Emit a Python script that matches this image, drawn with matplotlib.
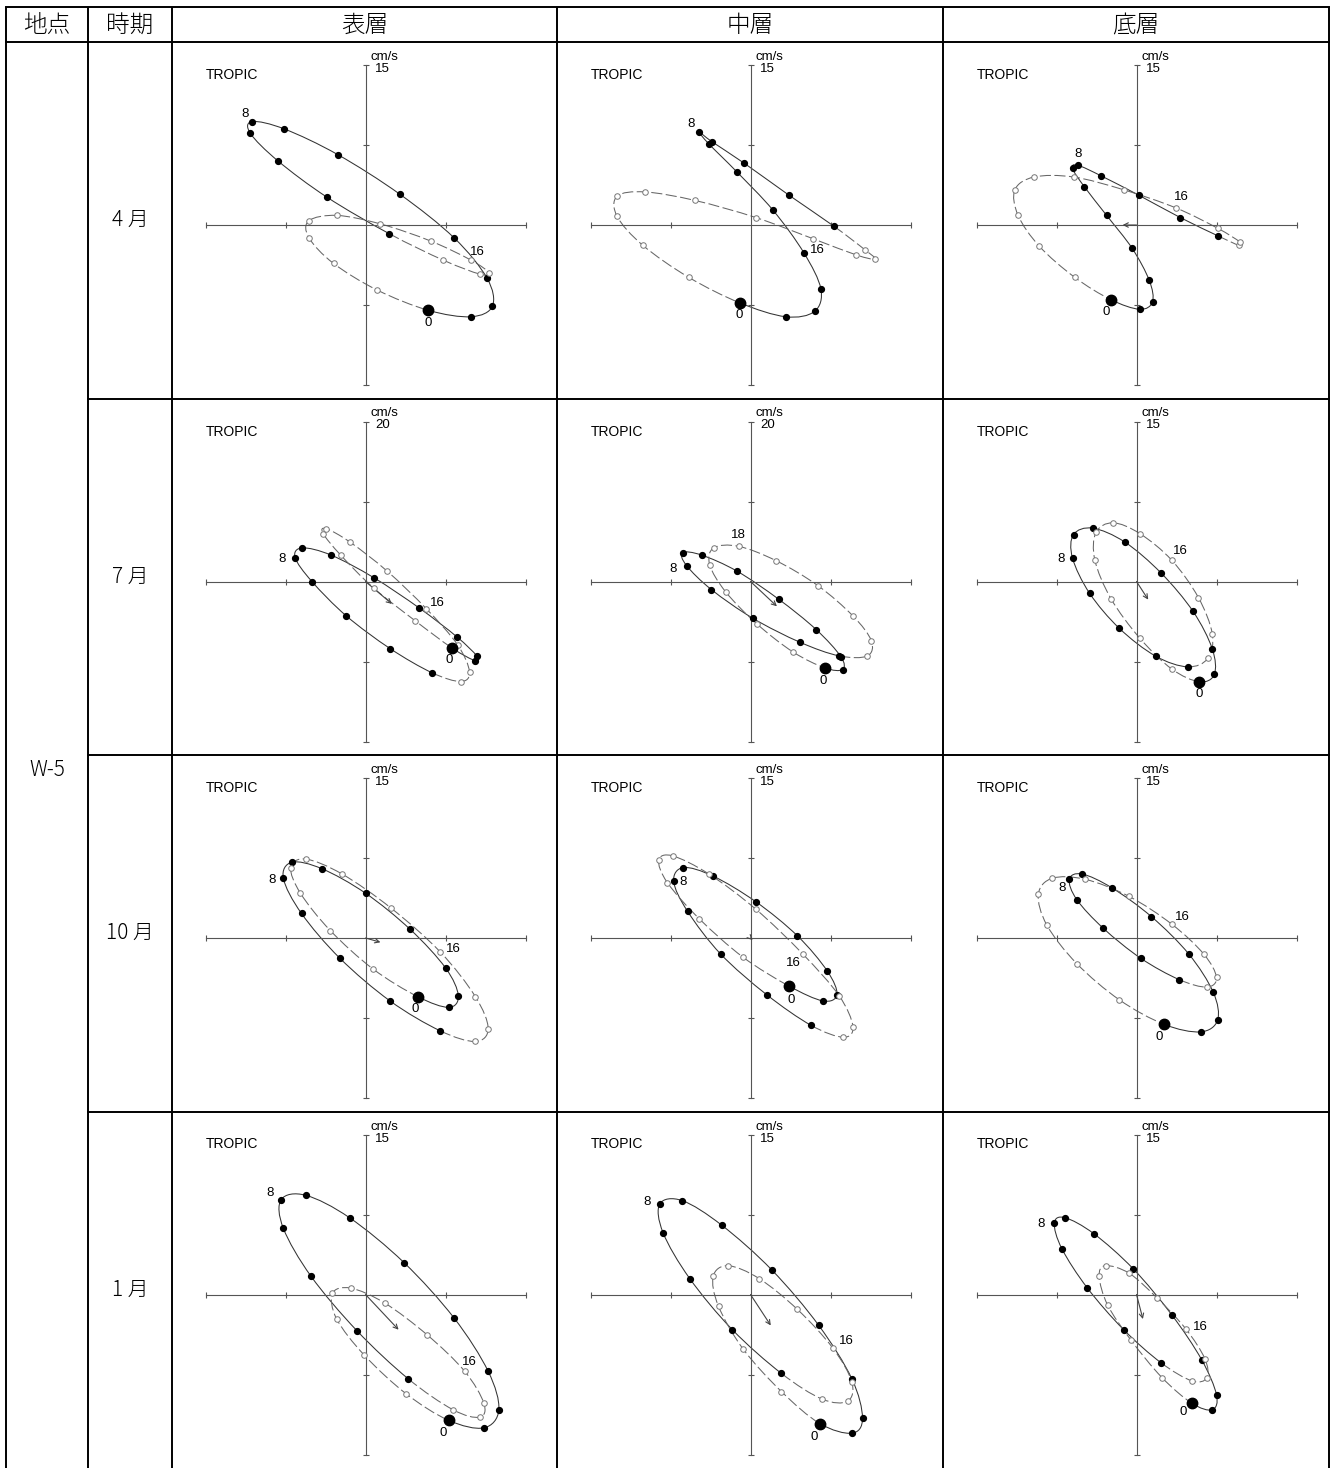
import numpy as np
import matplotlib
matplotlib.use('Agg')
import matplotlib.pyplot as plt
from matplotlib.path import Path
from matplotlib.patches import PathPatch

plt.rcParams['lines.scale_dashes'] = False

# ---- table text ----
header = ['地点', '時期', '表層', '中層', '底層']
station = 'W-5'
seasons = ['4 月', '7 月', '10 月', '1 月']
# full scale of each hodograph (cm/s), rows = season, cols = layer
full_scale = [[15, 15, 15], [20, 20, 15], [15, 15, 15], [15, 15, 15]]

# ---- hourly current vectors (cm/s), hour 0..23, u = east, v = north ----
apr_top_u = [5.9, 9.9, 11.9, 11.4, 8.3, 3.2, -2.6, -7.6, -10.6, -10.8, -8.2, -3.6, 2.2, 7.3, 10.7, 11.6, 9.9, 6.1, 1.4, -2.7, -5.3, -5.3, -3.0, 1.1]
apr_top_v = [-8.0, -8.6, -7.6, -5.0, -1.2, 2.9, 6.6, 9.0, 9.7, 8.6, 6.0, 2.6, -0.8, -3.3, -4.6, -4.5, -3.3, -1.5, 0.1, 0.9, 0.4, -1.2, -3.6, -6.1]
apr_mid_u = [-1.0, 3.3, 6.0, 6.6, 5.0, 2.1, -1.3, -3.9, -4.8, -3.6, -0.6, 3.6, 7.8, 10.7, 11.7, 9.9, 5.9, 0.5, -5.2, -9.9, -12.5, -12.5, -10.1, -5.8]
apr_mid_v = [-7.3, -8.6, -8.1, -6.0, -2.6, 1.4, 5.0, 7.6, 8.7, 7.8, 5.8, 2.8, -0.1, -2.3, -3.2, -2.8, -1.3, 0.7, 2.3, 3.1, 2.7, 0.8, -1.9, -4.9]
apr_bot_u = [-2.4, 0.3, 1.5, 1.2, -0.4, -2.8, -4.9, -6.0, -5.5, -3.3, 0.2, 4.1, 7.6, 9.6, 9.7, 7.6, 3.7, -1.2, -5.9, -9.6, -11.4, -11.1, -9.1, -5.8]
apr_bot_v = [-7.0, -7.9, -7.2, -5.2, -2.2, 0.9, 3.6, 5.3, 5.6, 4.6, 2.8, 0.7, -1.0, -1.9, -1.6, -0.3, 1.6, 3.3, 4.5, 4.5, 3.3, 0.9, -2.0, -4.9]

jul_top_u = [10.8, 13.7, 13.9, 11.4, 6.7, 1.0, -4.3, -7.9, -8.8, -6.7, -2.4, 3.1, 8.3, 11.9, 13.0, 11.5, 7.6, 2.7, -1.9, -4.9, -5.3, -3.1, 1.0, 6.2]
jul_top_v = [-8.3, -9.9, -9.3, -6.9, -3.3, 0.5, 3.3, 4.2, 3.0, 0.0, -4.3, -8.4, -11.4, -12.5, -11.3, -7.9, -3.4, 1.3, 4.9, 6.6, 6.0, 3.3, -0.8, -4.9]
jul_mid_u = [9.3, 11.5, 11.3, 8.2, 3.5, -1.7, -6.1, -8.5, -8.0, -4.9, 0.3, 6.2, 11.1, 14.6, 15.1, 12.8, 8.4, 3.2, -1.5, -4.6, -5.1, -3.1, 0.8, 5.3]
jul_mid_v = [-10.8, -11.0, -9.4, -6.0, -2.2, 1.3, 3.3, 3.6, 2.0, -1.0, -4.6, -7.6, -9.3, -9.3, -7.4, -4.3, -0.5, 2.6, 4.4, 4.2, 2.1, -1.3, -5.3, -8.8]
jul_bot_u = [5.9, 7.3, 7.1, 5.3, 2.3, -1.1, -4.1, -5.9, -6.0, -4.4, -1.6, 1.8, 4.8, 6.7, 7.1, 5.8, 3.3, 0.3, -2.2, -3.8, -3.9, -2.4, 0.3, 3.3]
jul_bot_v = [-9.4, -8.7, -6.3, -2.8, 0.8, 3.7, 5.0, 4.4, 2.2, -1.1, -4.4, -7.0, -8.0, -7.2, -4.9, -1.5, 2.0, 4.5, 5.5, 4.6, 2.0, -1.6, -5.3, -8.2]

oct_top_u = [4.9, 7.8, 8.7, 7.5, 4.2, 0.0, -4.1, -6.9, -7.7, -6.0, -2.4, 2.3, 7.0, 10.3, 11.5, 10.3, 7.0, 2.4, -2.2, -5.6, -7.0, -6.1, -3.3, 0.7]
oct_top_v = [-5.5, -6.5, -5.4, -2.8, 0.8, 4.2, 6.5, 7.1, 5.6, 2.3, -1.9, -5.9, -8.7, -9.7, -8.5, -5.5, -1.3, 2.8, 6.0, 7.4, 6.6, 4.2, 0.7, -2.9]
oct_mid_u = [3.6, 6.8, 8.1, 7.2, 4.4, 0.5, -3.5, -6.3, -7.2, -5.9, -2.8, 1.5, 5.7, 8.7, 9.6, 8.3, 4.9, 0.5, -3.9, -7.3, -8.6, -7.8, -4.8, -0.7]
oct_mid_v = [-4.5, -5.9, -5.3, -3.1, 0.2, 3.4, 5.8, 6.6, 5.3, 2.5, -1.5, -5.3, -8.2, -9.3, -8.3, -5.4, -1.5, 2.7, 6.0, 7.7, 7.3, 5.2, 1.8, -1.8]
oct_bot_u = [2.6, 6.0, 7.6, 7.2, 4.9, 1.4, -2.3, -5.1, -6.3, -5.6, -3.1, 0.4, 4.0, 6.6, 7.5, 6.3, 3.3, -0.7, -4.8, -7.9, -9.2, -8.4, -5.6, -1.6]
oct_bot_v = [-8.1, -8.8, -7.7, -5.1, -1.5, 2.0, 4.7, 6.0, 5.5, 3.6, 0.9, -1.9, -3.9, -4.6, -3.7, -1.5, 1.3, 3.9, 5.5, 5.6, 4.1, 1.2, -2.4, -5.8]

jan_top_u = [7.8, 11.1, 12.5, 11.5, 8.3, 3.6, -1.5, -5.6, -7.9, -7.7, -5.1, -0.8, 4.0, 8.2, 10.7, 11.1, 9.3, 5.8, 1.8, -1.4, -3.1, -2.7, -0.1, 3.8]
jan_top_v = [-11.8, -12.5, -10.8, -7.2, -2.2, 3.0, 7.2, 9.3, 8.9, 6.2, 1.7, -3.4, -7.9, -10.8, -11.5, -10.2, -7.2, -3.8, -0.8, 0.6, 0.1, -2.3, -5.7, -9.3]
jan_mid_u = [6.5, 9.5, 10.5, 9.5, 6.4, 2.0, -2.7, -6.4, -8.5, -8.2, -5.7, -1.7, 2.9, 6.7, 9.1, 9.5, 7.7, 4.4, 0.8, -2.1, -3.5, -3.0, -0.7, 2.9]
jan_mid_v = [-12.1, -13.0, -11.6, -7.9, -2.9, 2.3, 6.5, 8.8, 8.5, 5.8, 1.5, -3.3, -7.4, -9.8, -10.0, -8.2, -5.0, -1.4, 1.5, 2.7, 1.7, -1.1, -5.1, -9.1]
jan_bot_u = [5.2, 7.1, 7.5, 6.1, 3.3, -0.3, -4.0, -6.7, -7.7, -7.0, -4.6, -1.2, 2.3, 5.2, 6.6, 6.4, 4.6, 1.9, -0.7, -2.9, -3.5, -2.7, -0.5, 2.4]
jan_bot_v = [-10.2, -10.8, -9.4, -6.1, -1.9, 2.4, 5.7, 7.2, 6.7, 4.3, 0.6, -3.3, -6.4, -8.1, -7.8, -6.0, -3.2, -0.3, 2.0, 2.7, 1.7, -1.0, -4.3, -7.8]

# residual (mean) current, cm/s
resid_u = [[0.0, 0.0, -1.3], [3.3, 3.3, 1.1], [1.4, 0.2, 0.0], [3.1, 1.9, 0.6]]
resid_v = [[0.0, 0.0, 0.0], [-2.8, -3.1, -1.7], [-0.4, -0.2, 0.0], [-3.3, -2.9, -2.3]]

# hours that get a number next to them
label_hours = [[[0, 8, 16], [0, 8, 16], [0, 8, 16]],
               [[0, 8, 16], [0, 8, 18], [0, 8, 16]],
               [[0, 8, 16], [0, 8, 16], [0, 8, 16]],
               [[0, 8, 16], [0, 8, 16], [0, 8, 16]]]

hodo = [[(apr_top_u, apr_top_v), (apr_mid_u, apr_mid_v), (apr_bot_u, apr_bot_v)],
        [(jul_top_u, jul_top_v), (jul_mid_u, jul_mid_v), (jul_bot_u, jul_bot_v)],
        [(oct_top_u, oct_top_v), (oct_mid_u, oct_mid_v), (oct_bot_u, oct_bot_v)],
        [(jan_top_u, jan_top_v), (jan_mid_u, jan_mid_v), (jan_bot_u, jan_bot_v)]]

# where the hour numbers sit relative to their point (pixels)
label_offsets = [[[(0, -13), (-7, 8), (6, 8)], [(-1, -12), (-8, 8), (4, -11)], [(-5, -12), (0, 11), (5, 11)]],
                 [[(-3, -12), (-13, -2), (11, 6)], [(-2, -13), (-13, -3), (0, 11)], [(0, -12), (-11, -1), (9, 9)]],
                 [[(-3, -12), (-11, -2), (13, 3)], [(2, -14), (9, -1), (-9, -9)], [(-5, -13), (-7, -9), (11, 7)]],
                 [[(-6, -13), (-11, 7), (5, 9)], [(-6, -13), (-13, 2), (14, 7)], [(-9, -9), (-13, -1), (15, 2)]]]

# ---- layout (pixels) ----
W, H = 1335, 1468
col_x = [6, 88, 172, 557, 943, 1329]
row_y = [7, 42, 398.5, 755, 1111.5]
AX_HALF = 160   # half length of the cross axes
BOX_HALF = 178  # half size of each panel's axes box

CJK = ['Noto Sans CJK JP', 'DejaVu Sans']
LAT = ['Liberation Sans', 'DejaVu Sans']
NARROW = ['Liberation Sans Narrow', 'Liberation Sans', 'DejaVu Sans']


def smooth_path(pts, i0, i1):
    # periodic Catmull-Rom through the hourly points as cubic Beziers
    n = len(pts)
    verts = [pts[i0 % n]]
    codes = [Path.MOVETO]
    for i in range(i0, i1):
        p0, p1, p2, p3 = pts[(i - 1) % n], pts[i % n], pts[(i + 1) % n], pts[(i + 2) % n]
        verts += [p1 + (p2 - p0) / 6.0, p2 - (p3 - p1) / 6.0, p2]
        codes += [Path.CURVE4] * 3
    return Path(verts, codes)


fig = plt.figure(figsize=(W / 100, H / 100), dpi=100)
bg = fig.add_axes([0, 0, 1, 1])
bg.set_xlim(0, W)
bg.set_ylim(H, 0)
bg.axis('off')

# table rules
lw_tab = 1.4
for x in col_x:
    bg.plot([x, x], [row_y[0], H], color='k', lw=lw_tab, solid_capstyle='butt')
bg.plot([col_x[0], col_x[-1]], [row_y[0], row_y[0]], color='k', lw=lw_tab)
bg.plot([col_x[0], col_x[-1]], [row_y[1], row_y[1]], color='k', lw=lw_tab)
for y in row_y[2:]:
    bg.plot([col_x[1], col_x[-1]], [y, y], color='k', lw=lw_tab)

for i, txt in enumerate(header):
    bg.text((col_x[i] + col_x[i + 1]) / 2, (row_y[0] + row_y[1]) / 2 + 1, txt,
            ha='center', va='center', fontsize=17, fontweight='light', family=CJK)

bg.text((col_x[0] + col_x[1]) / 2, 770, station, ha='center', va='center',
        fontsize=15, fontweight='light', family=CJK)
row_bottoms = row_y[2:] + [H]
for r, s in enumerate(seasons):
    bg.text((col_x[1] + col_x[2]) / 2, (row_y[r + 1] + row_bottoms[r]) / 2, s,
            ha='center', va='center', fontsize=15, fontweight='light', family=CJK)

for r in range(4):
    for c in range(3):
        full = full_scale[r][c]
        cx = col_x[c + 2] + 193.5
        cy = row_y[r + 1] + 183
        ax = fig.add_axes([(cx - BOX_HALF) / W, (H - cy - BOX_HALF) / H,
                           2 * BOX_HALF / W, 2 * BOX_HALF / H])
        lim = full * BOX_HALF / AX_HALF
        ax.set_xlim(-lim, lim)
        ax.set_ylim(-lim, lim)
        ax.axis('off')

        # cross axes with ticks at half and full scale
        ac = '#555555'
        ax.plot([-full, full], [0, 0], color=ac, lw=0.8)
        ax.plot([0, 0], [-full, full], color=ac, lw=0.8)
        tk = [-full, -full / 2, full / 2, full]
        ax.plot(tk, [0] * 4, ls='none', marker='|', ms=5, mew=0.8, color=ac)
        ax.plot([0] * 4, tk, ls='none', marker='_', ms=5, mew=0.8, color=ac)

        ax.annotate('TROPIC', xy=(0, 0), xytext=(-AX_HALF, 150), textcoords='offset pixels',
                    ha='left', va='center', fontsize=10, family=LAT)
        ax.annotate('cm/s', xy=(0, 0), xytext=(19, 168), textcoords='offset pixels',
                    ha='center', va='center', fontsize=9.5, family=LAT)
        ax.annotate(str(full), xy=(0, 0), xytext=(17, 156), textcoords='offset pixels',
                    ha='center', va='center', fontsize=9.5, family=LAT)

        u, v = hodo[r][c]
        u = np.asarray(u)
        v = np.asarray(v)
        pts = np.column_stack([u, v])

        ax.add_patch(PathPatch(smooth_path(pts, 0, 12), fill=False, ec='#333333', lw=0.75))
        ax.add_patch(PathPatch(smooth_path(pts, 12, 24), fill=False, ec='#666666', lw=0.75,
                               ls=(0, (8, 2.5))))

        ru, rv = resid_u[r][c], resid_v[r][c]
        if abs(ru) + abs(rv) > 0:
            ax.annotate('', xy=(ru, rv), xytext=(0, 0),
                        arrowprops=dict(arrowstyle='->', color='#444444', lw=0.8,
                                        shrinkA=0, shrinkB=0, mutation_scale=8))

        ax.plot(u[1:13], v[1:13], ls='none', marker='o', ms=4.2, color='k', zorder=4)
        ax.plot(u[13:], v[13:], ls='none', marker='o', ms=4, mfc='white', mec='#777777',
                mew=0.7, zorder=4)
        ax.plot(u[0], v[0], ls='none', marker='o', ms=7.5, color='k', zorder=5)

        for hr, off in zip(label_hours[r][c], label_offsets[r][c]):
            ax.annotate(str(hr), xy=(u[hr], v[hr]), xytext=off, textcoords='offset pixels',
                        ha='center', va='center', fontsize=9.5, family=NARROW)

fig.savefig('out.png', dpi=100)
